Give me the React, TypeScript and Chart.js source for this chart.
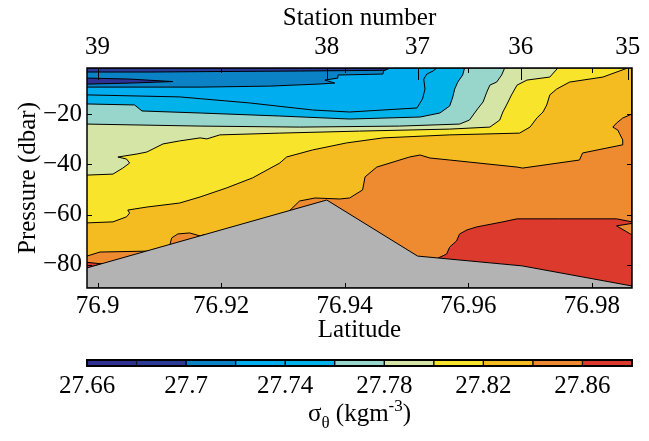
import React, { useEffect, useRef } from 'react';
import { Chart, registerables } from 'chart.js';

Chart.register(...registerables);

const FONT = "'Liberation Serif', 'Times New Roman', serif";

// Axis limits
const LAT_MIN = 76.8983;
const LAT_MAX = 76.9865;
const P_MIN = -89.2;
const P_MAX = -1.7;

// Tick values and labels
const latitudeTicks = [76.9, 76.92, 76.94, 76.96, 76.98];
const pressureTicks = [-80, -60, -40, -20];
const stationNumbers = ['39', '38', '37', '36', '35'];
const stationLatitudes = [76.9, 76.9371, 76.9518, 76.9685, 76.9858];

// Density classes (sigma-theta) and their colours
const sigmaLevels = [27.66, 27.68, 27.7, 27.72, 27.74, 27.76, 27.78, 27.8, 27.82, 27.84, 27.86, 27.88];
const levelColors = ['#2e3192', '#2c3a96', '#0b82c6', '#00adee', '#00b2ea', '#98d5cb', '#d5e5a6', '#f8e42a', '#f5bc22', '#ee8a30', '#dc3a2c'];
const colorbarTicks = [27.66, 27.7, 27.74, 27.78, 27.82, 27.86];
const bottomColor = '#b3b3b3';

// Contour lines [latitude, pressure]
const contour2770 = [[76.8983, -3.3], [76.9085, -3.3], [76.9195, -3.1], [76.9327, -2.9], [76.9517, -2.5], [76.9522, -1.7]];
const contour2772 = [[76.8983, -9.3], [76.9166, -9.3], [76.9279, -8.9], [76.9357, -8.1], [76.9384, -7.7], [76.9368, -6.5], [76.9389, -5.7], [76.9389, -4.5], [76.9462, -4.1], [76.9463, -2.9], [76.9473, -1.7]];
const contour2774 = [[76.8983, -12.4], [76.9133, -13.2], [76.9246, -15.6], [76.9348, -18.4], [76.9408, -19.2], [76.9517, -17.6], [76.9526, -14.0], [76.953, -10.1], [76.9528, -6.1], [76.9533, -4.1], [76.9543, -2.9], [76.9549, -1.7]];
const contour2776 = [[76.8983, -16.0], [76.906, -16.4], [76.9072, -18.8], [76.9166, -19.6], [76.9295, -20.8], [76.9408, -22.0], [76.9522, -21.2], [76.9554, -19.6], [76.957, -16.8], [76.9575, -13.2], [76.9578, -10.1], [76.9583, -7.3], [76.9591, -4.5], [76.9594, -1.7]];
const contour2778 = [[76.8983, -24.0], [76.9166, -24.8], [76.9327, -25.2], [76.9489, -24.8], [76.9586, -24.0], [76.9602, -22.4], [76.9615, -18.0], [76.9624, -15.2], [76.963, -11.3], [76.9635, -8.5], [76.9646, -7.3], [76.9654, -4.5], [76.9659, -1.7]];
const contour2780 = [[76.8983, -44.3], [76.9025, -43.9], [76.9041, -41.5], [76.9052, -39.5], [76.9047, -37.9], [76.9033, -37.1], [76.9064, -35.9], [76.908, -35.1], [76.9106, -31.9], [76.9133, -30.7], [76.9166, -29.5], [76.9177, -29.9], [76.9198, -28.3], [76.9295, -27.6], [76.9424, -26.8], [76.957, -26.0], [76.9635, -25.2], [76.9651, -22.4], [76.9656, -19.2], [76.9662, -16.4], [76.967, -12.4], [76.9679, -8.5], [76.9695, -6.5], [76.9732, -5.3], [76.9745, -1.7]];
const contour2782 = [[76.8983, -63.3], [76.9025, -62.9], [76.9047, -60.9], [76.9052, -59.4], [76.9049, -58.2], [76.908, -57.0], [76.9133, -55.4], [76.9166, -53.0], [76.9209, -49.4], [76.9251, -45.4], [76.9295, -39.5], [76.9306, -37.1], [76.9348, -34.3], [76.9403, -31.5], [76.9462, -29.5], [76.957, -28.3], [76.9683, -27.6], [76.97, -25.2], [76.9711, -21.6], [76.9721, -19.2], [76.9727, -16.4], [76.9732, -12.4], [76.9743, -10.1], [76.9764, -7.3], [76.9818, -5.3], [76.9858, -1.7]];
const contour2784 = [[76.9311, -58.4], [76.9327, -54.6], [76.9352, -53.4], [76.9392, -53.8], [76.9408, -53.4], [76.9429, -50.2], [76.9433, -45.0], [76.9452, -41.1], [76.9505, -37.1], [76.9522, -36.3], [76.9538, -37.5], [76.957, -38.3], [76.9679, -41.1], [76.9688, -41.5], [76.978, -38.3], [76.9785, -35.5], [76.9849, -32.3], [76.985, -30.3], [76.9842, -26.4], [76.9834, -25.2], [76.984, -23.6], [76.985, -21.6], [76.9865, -20.0]];
const contour2784West = [[76.8983, -76.5], [76.9004, -74.9], [76.9088, -74.5], [76.9094, -73.5]];
const patch2784Slope = [[76.9117, -72.2], [76.912, -69.3], [76.913, -67.7], [76.9149, -67.3], [76.9166, -68.5], [76.9174, -67.9]];
const contour2786 = [[76.9551, -77.3], [76.9565, -75.7], [76.957, -72.9], [76.9581, -70.5], [76.9586, -67.7], [76.9598, -66.1], [76.9614, -64.9], [76.9656, -62.9], [76.9679, -61.7], [76.9748, -61.7], [76.984, -61.7], [76.9865, -62.9]];
const patch2784East = [[76.9865, -63.5], [76.984, -64.5], [76.9865, -68.1]];
const patch2786West = [[76.8983, -79.0], [76.9007, -79.6], [76.8983, -81.2]];
const patch2768West = [[76.8983, -5.7], [76.9052, -6.1], [76.9122, -7.1], [76.9052, -7.7], [76.8983, -8.1]];
const bathymetry = [[76.8983, -81.2], [76.9371, -54.2], [76.9518, -76.5], [76.9687, -80.4], [76.9865, -88.4]];

type Pt = number[];

function regionBelow(c: Pt[], edge: 'top' | 'right' | 'floor' | 'closed'): Pt[] {
  const first = c[0];
  const last = c[c.length - 1];
  if (edge === 'top') return [...c, [LAT_MAX, P_MAX], [LAT_MAX, P_MIN], [first[0], P_MIN]];
  if (edge === 'right') return [...c, [LAT_MAX, P_MIN], [first[0], P_MIN]];
  if (edge === 'floor') return [...c, [last[0], P_MIN], [first[0], P_MIN]];
  return c;
}

const layers: { pts: Pt[]; color: string }[] = [
  { pts: [[LAT_MIN, P_MAX], [LAT_MAX, P_MAX], [LAT_MAX, P_MIN], [LAT_MIN, P_MIN]], color: levelColors[1] },
  { pts: regionBelow(contour2770, 'top'), color: levelColors[2] },
  { pts: regionBelow(contour2772, 'top'), color: levelColors[3] },
  { pts: regionBelow(contour2774, 'top'), color: levelColors[4] },
  { pts: regionBelow(contour2776, 'top'), color: levelColors[5] },
  { pts: regionBelow(contour2778, 'top'), color: levelColors[6] },
  { pts: regionBelow(contour2780, 'top'), color: levelColors[7] },
  { pts: regionBelow(contour2782, 'top'), color: levelColors[8] },
  { pts: regionBelow(contour2784, 'right'), color: levelColors[9] },
  { pts: regionBelow(contour2784West, 'floor'), color: levelColors[9] },
  { pts: regionBelow(patch2784Slope, 'closed'), color: levelColors[9] },
  { pts: regionBelow(contour2786, 'right'), color: levelColors[10] },
  { pts: regionBelow(patch2784East, 'closed'), color: levelColors[9] },
  { pts: regionBelow(patch2786West, 'closed'), color: levelColors[10] },
  { pts: regionBelow(patch2768West, 'closed'), color: levelColors[0] },
  { pts: regionBelow(bathymetry, 'right'), color: bottomColor },
];

const frameTicks = {
  id: 'frameTicks',
  afterDatasetsDraw(chart: any) {
    const { ctx, chartArea, scales } = chart;
    const { left, right, top, bottom } = chartArea;
    ctx.save();
    ctx.strokeStyle = '#000';
    ctx.lineWidth = 1;
    ctx.beginPath();
    for (const t of scales.x.ticks) {
      const px = Math.round(scales.x.getPixelForValue(t.value)) + 0.5;
      ctx.moveTo(px, bottom); ctx.lineTo(px, bottom - 5);
      ctx.moveTo(px, top); ctx.lineTo(px, top + 5);
    }
    for (const t of scales.xTop.ticks) {
      const px = Math.round(scales.xTop.getPixelForValue(t.value)) + 0.5;
      ctx.moveTo(px, top); ctx.lineTo(px, top + 12);
    }
    for (const t of scales.y.ticks) {
      const py = Math.round(scales.y.getPixelForValue(t.value)) + 0.5;
      ctx.moveTo(left, py); ctx.lineTo(left + 5, py);
      ctx.moveTo(right, py); ctx.lineTo(right - 5, py);
    }
    ctx.stroke();
    ctx.lineWidth = 1.5;
    ctx.strokeRect(left, top, right - left, bottom - top);
    ctx.restore();
  },
};

const colorbarDecor = {
  id: 'colorbarDecor',
  afterDraw(chart: any) {
    const { ctx, chartArea } = chart;
    ctx.save();
    ctx.strokeStyle = '#000';
    ctx.lineWidth = 2;
    ctx.strokeRect(chartArea.left, chartArea.top, chartArea.right - chartArea.left, chartArea.bottom - chartArea.top);
    const big = `25px ${FONT}`;
    const small = `17px ${FONT}`;
    const parts = [
      { t: 'σ', f: big, dy: 0 },
      { t: 'θ', f: small, dy: 7 },
      { t: ' (kgm', f: big, dy: 0 },
      { t: '-3', f: small, dy: -10 },
      { t: ')', f: big, dy: 0 },
    ];
    let w = 0;
    for (const p of parts) { ctx.font = p.f; w += ctx.measureText(p.t).width; }
    let x = (chartArea.left + chartArea.right) / 2 - w / 2;
    const base = 76;
    ctx.fillStyle = '#000';
    ctx.textBaseline = 'alphabetic';
    ctx.textAlign = 'left';
    for (const p of parts) {
      ctx.font = p.f;
      ctx.fillText(p.t, x, base + p.dy);
      x += ctx.measureText(p.t).width;
    }
    ctx.restore();
  },
};

const tickFont = { family: FONT, size: 25 };

export default function App() {
  const mainRef = useRef<HTMLCanvasElement>(null);
  const barRef = useRef<HTMLCanvasElement>(null);

  useEffect(() => {
    Chart.defaults.font.family = FONT;
    Chart.defaults.color = '#000';
    const n = layers.length;
    const main = new Chart(mainRef.current as HTMLCanvasElement, {
      type: 'line',
      data: {
        datasets: layers.map((l, i) => ({
          data: l.pts.map(([x, y]) => ({ x, y })),
          backgroundColor: l.color,
          borderColor: '#000',
          borderWidth: 1,
          borderJoinStyle: 'round',
          fill: 'shape',
          pointRadius: 0,
          tension: 0,
          order: n - 1 - i,
        })) as any,
      },
      options: {
        responsive: false,
        devicePixelRatio: 1,
        animation: false,
        events: [],
        layout: { padding: { left: 0, right: 17, top: 0, bottom: 0 } },
        plugins: { legend: { display: false }, tooltip: { enabled: false } },
        scales: {
          x: {
            type: 'linear',
            position: 'bottom',
            min: LAT_MIN,
            max: LAT_MAX,
            grid: { display: false, drawTicks: false },
            border: { display: false },
            afterBuildTicks: (s: any) => { s.ticks = latitudeTicks.map((v) => ({ value: v })); },
            afterFit: (s: any) => { s.height = 57; s.paddingLeft = 0; s.paddingRight = 0; },
            ticks: {
              font: tickFont, color: '#000', padding: 3, maxRotation: 0, autoSkip: false,
              callback: (v: any) => String(Number(Number(v).toFixed(2))),
            },
            title: { display: true, text: 'Latitude', font: tickFont, color: '#000', padding: { top: 0, bottom: 0 } },
          },
          xTop: {
            type: 'linear',
            position: 'top',
            min: LAT_MIN,
            max: LAT_MAX,
            grid: { display: false, drawTicks: false },
            border: { display: false },
            afterBuildTicks: (s: any) => { s.ticks = stationLatitudes.map((v) => ({ value: v })); },
            afterFit: (s: any) => { s.height = 68; s.paddingLeft = 0; s.paddingRight = 0; },
            ticks: {
              font: tickFont, color: '#000', padding: 6, maxRotation: 0, autoSkip: false,
              callback: (_v: any, i: number) => stationNumbers[i],
            },
            title: { display: true, text: 'Station number', font: tickFont, color: '#000', padding: { top: 3, bottom: 0 } },
          },
          y: {
            type: 'linear',
            position: 'left',
            min: P_MIN,
            max: P_MAX,
            grid: { display: false, drawTicks: false },
            border: { display: false },
            afterBuildTicks: (s: any) => { s.ticks = pressureTicks.map((v) => ({ value: v })); },
            afterFit: (s: any) => { s.width = 87; s.paddingTop = 0; s.paddingBottom = 0; },
            ticks: {
              font: tickFont, color: '#000', padding: 5, autoSkip: false,
              callback: (v: any) => (Number(v) < 0 ? '\u2212' + Math.abs(Number(v)) : String(v)),
            },
            title: { display: true, text: 'Pressure (dbar)', font: tickFont, color: '#000', padding: { top: 13, bottom: 0 } },
          },
        },
      } as any,
      plugins: [frameTicks],
    });

    const segments = sigmaLevels.slice(0, -1).map((lo, i) => [lo, sigmaLevels[i + 1]]);
    const bar = new Chart(barRef.current as HTMLCanvasElement, {
      type: 'bar',
      data: {
        labels: ['σθ'],
        datasets: segments.map((seg, i) => ({
          data: [seg],
          backgroundColor: levelColors[i],
          borderColor: '#000',
          borderWidth: 1,
          borderSkipped: false,
          grouped: false,
          barPercentage: 1,
          categoryPercentage: 1,
        })) as any,
      },
      options: {
        indexAxis: 'y',
        responsive: false,
        devicePixelRatio: 1,
        animation: false,
        events: [],
        layout: { padding: { left: 87, right: 17, top: 15, bottom: 0 } },
        plugins: { legend: { display: false }, tooltip: { enabled: false } },
        scales: {
          x: {
            type: 'linear',
            min: sigmaLevels[0],
            max: sigmaLevels[sigmaLevels.length - 1],
            grid: { display: false, drawTicks: false },
            border: { display: false },
            afterBuildTicks: (s: any) => { s.ticks = colorbarTicks.map((v) => ({ value: v })); },
            afterFit: (s: any) => { s.height = 75; s.paddingLeft = 0; s.paddingRight = 0; },
            ticks: {
              font: tickFont, color: '#000', padding: 5, maxRotation: 0, autoSkip: false,
              callback: (v: any) => String(Number(Number(v).toFixed(2))),
            },
          },
          y: { type: 'category', display: false },
        },
      } as any,
      plugins: [colorbarDecor],
    });

    return () => { main.destroy(); bar.destroy(); };
  }, []);

  return (
    <div style={{ position: 'absolute', left: 0, top: 0, width: 649, height: 441, background: '#fff' }}>
      <canvas ref={mainRef} width={649} height={345} style={{ position: 'absolute', left: 0, top: 0, width: 649, height: 345 }} />
      <canvas ref={barRef} width={649} height={96} style={{ position: 'absolute', left: 0, top: 345, width: 649, height: 96 }} />
    </div>
  );
}
